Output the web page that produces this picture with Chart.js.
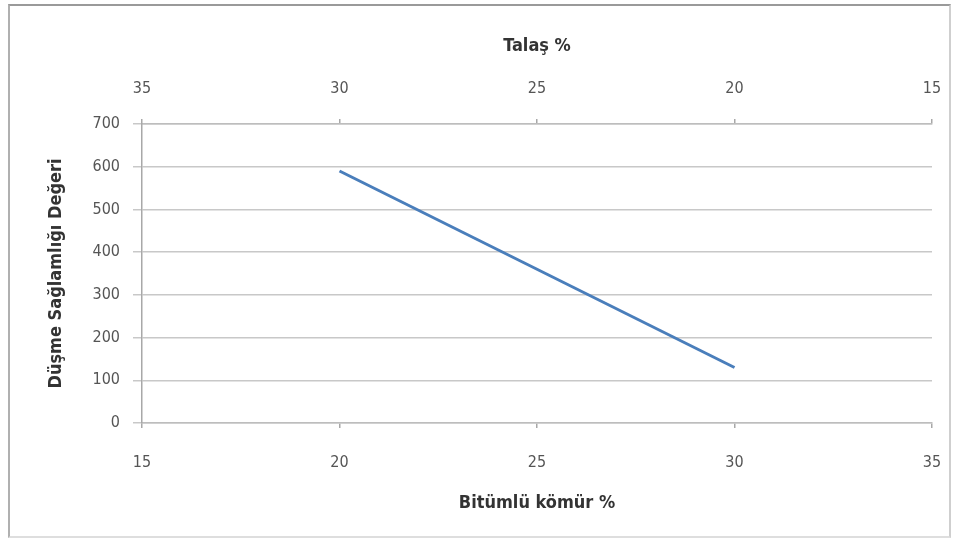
<!DOCTYPE html>
<html>
<head>
<meta charset="utf-8">
<script src="https://cdn.jsdelivr.net/npm/chart.js@4.4.1/dist/chart.umd.min.js"></script>
<style>
  html, body { margin: 0; padding: 0; background: #fff; }
  #wrap { position: relative; width: 958px; height: 542px; }
  #frame {
    position: absolute; left: 8px; top: 4px; width: 939px; height: 530px;
    border-top: 2px solid #9a9a9a; border-left: 2px solid #b0b0b0;
    border-right: 2px solid #cfcfcf; border-bottom: 2px solid #dedede;
    pointer-events: none;
  }
  canvas { position: absolute; left: 0; top: 0; }
</style>
</head>
<body>
<div id="wrap">
  <canvas id="chart" width="958" height="542"></canvas>
  <div id="frame"></div>
</div>
<script>
// Bitümlü kömür % (alt eksen) ve düşme sağlamlığı değerleri
const komur = [20, 30];
const dayanim = [590, 130];
// Talaş % üst eksende ters yönde okunur (35 → 15)
const talasTicks = [35, 30, 25, 20, 15];
const komurTicks = [15, 20, 25, 30, 35];
const yTicks = [0, 100, 200, 300, 400, 500, 600, 700];

const FONT = '"Liberation Sans Narrow", "DejaVu Sans Condensed", "Liberation Sans", sans-serif';
const tickFont = { family: FONT, size: 16 };
const titleFont = { family: FONT, size: 18, weight: 'bold' };

// yatay eksenlerde kenar etiketleri için ek boşluk bırakma
const fitX = h => s => { s.height = h; s.paddingLeft = 0; s.paddingRight = 0; };

new Chart(document.getElementById('chart'), {
  type: 'line',
  data: {
    datasets: [{
      data: komur.map((x, i) => ({ x: x, y: dayanim[i] })),
      borderColor: '#4a7ebb',
      borderWidth: 3,
      pointRadius: 0,
      tension: 0,
      xAxisID: 'x',
      yAxisID: 'y'
    }]
  },
  options: {
    responsive: false,
    animation: false,
    layout: { padding: { left: 0, right: 26, top: 0, bottom: 0 } },
    plugins: { legend: { display: false }, tooltip: { enabled: false } },
    scales: {
      x: {
        type: 'linear', position: 'bottom', min: 15, max: 35,
        afterBuildTicks: s => { s.ticks = komurTicks.map(v => ({ value: v })); },
        afterFit: fitX(119),
        grid: { drawOnChartArea: false, tickLength: 5, color: '#a8a8a8', lineWidth: 1.5 },
        border: { display: true, color: '#bdbdbd', width: 1.5 },
        ticks: { font: tickFont, color: '#555', padding: 25 },
        title: { display: true, text: 'Bitümlü kömür %', font: titleFont, color: '#333', padding: 28 }
      },
      x2: {
        type: 'linear', position: 'top', min: 15, max: 35, reverse: true,
        afterBuildTicks: s => { s.ticks = talasTicks.map(v => ({ value: v })); },
        afterFit: fitX(124),
        grid: { drawOnChartArea: false, tickLength: 5, color: '#a8a8a8', lineWidth: 1.5 },
        border: { display: true, color: '#bdbdbd', width: 1.5 },
        ticks: { font: tickFont, color: '#555', padding: 21 },
        title: { display: true, text: 'Talaş %', font: titleFont, color: '#333', padding: 36 }
      },
      y: {
        min: 0, max: 700,
        afterBuildTicks: s => { s.ticks = yTicks.map(v => ({ value: v })); },
        afterFit: s => { s.width = 142; },
        grid: { color: '#c8c8c8', lineWidth: 1.5, tickLength: 9 },
        border: { display: true, color: '#a8a8a8', width: 1.5 },
        ticks: { font: tickFont, color: '#555', padding: 13 },
        title: { display: true, text: 'Düşme Sağlamlığı Değeri', font: titleFont, color: '#333', padding: { top: 46, bottom: 0 } }
      }
    }
  }
});
</script>
</body>
</html>
